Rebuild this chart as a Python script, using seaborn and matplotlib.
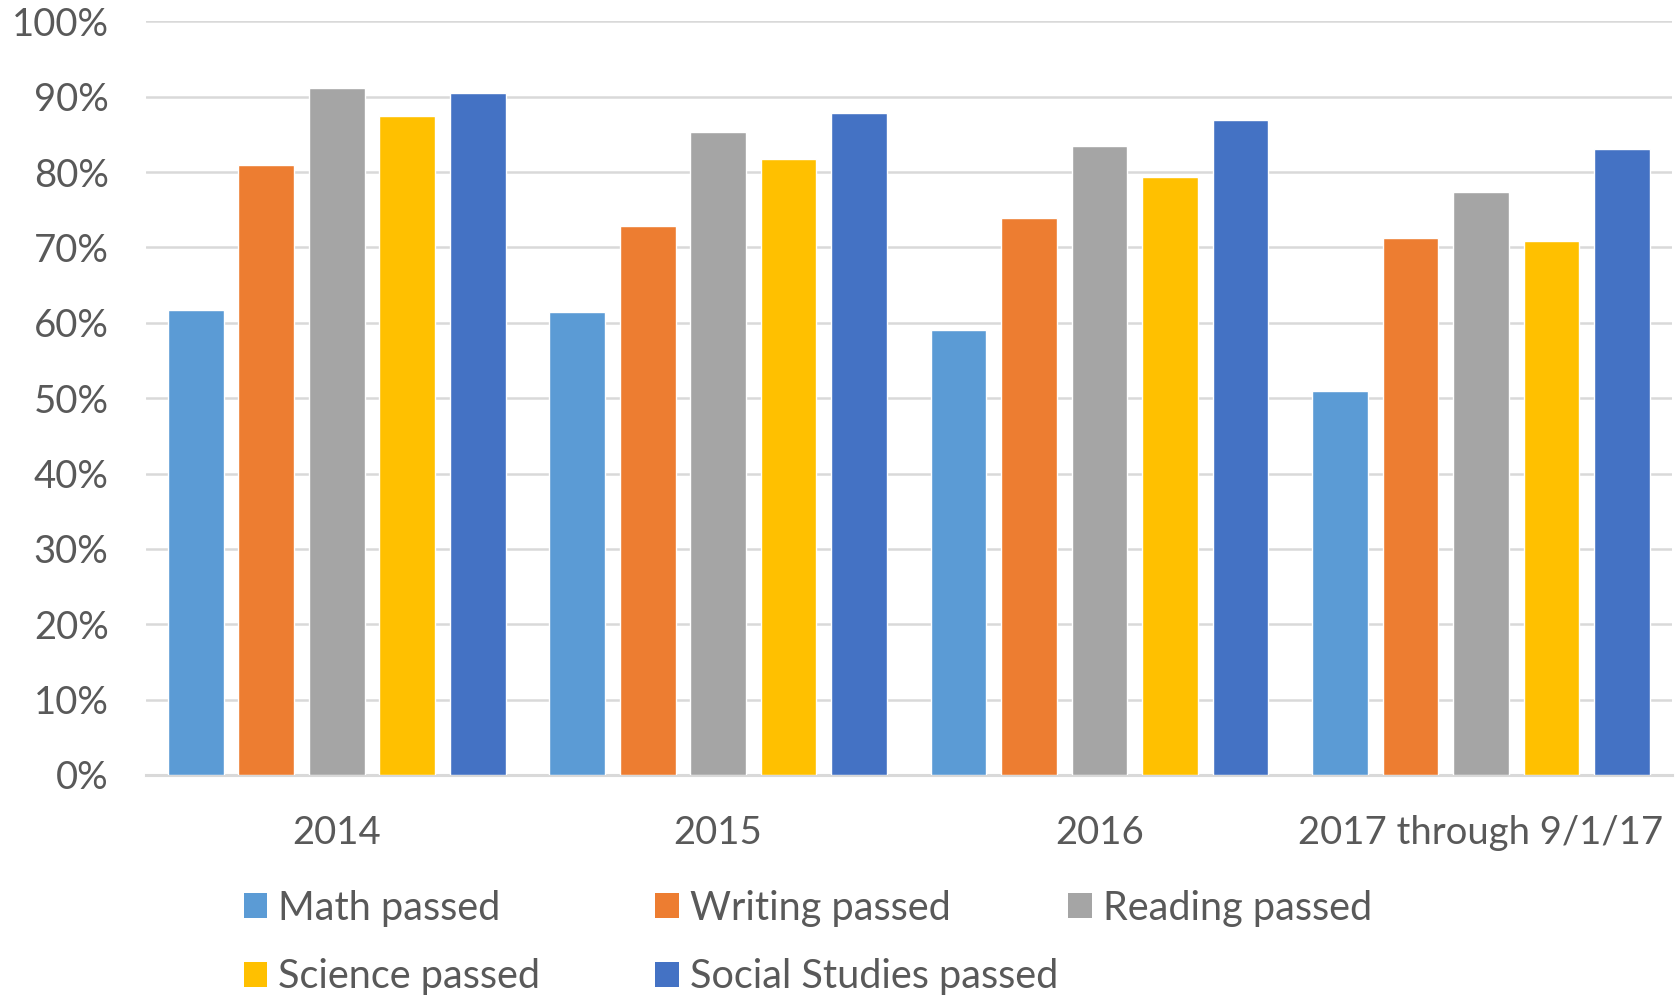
import matplotlib
matplotlib.use("Agg")
import matplotlib.pyplot as plt
from matplotlib.patches import Patch
from matplotlib.ticker import PercentFormatter
import seaborn as sns
import pandas as pd

years = ["2014", "2015", "2016", "2017 through 9/1/17"]
subjects = ["Math passed", "Writing passed", "Reading passed",
            "Science passed", "Social Studies passed"]
math_passed = [0.617, 0.615, 0.590, 0.509]
writing_passed = [0.810, 0.728, 0.739, 0.713]
reading_passed = [0.912, 0.853, 0.835, 0.774]
science_passed = [0.874, 0.818, 0.793, 0.709]
social_passed = [0.905, 0.879, 0.869, 0.831]
colors = ["#5B9BD5", "#ED7D31", "#A5A5A5", "#FFC000", "#4472C4"]

series = [math_passed, writing_passed, reading_passed, science_passed, social_passed]
rows = []
for subj, vals in zip(subjects, series):
    for yr, v in zip(years, vals):
        rows.append({"year": yr, "subject": subj, "value": v})
df = pd.DataFrame(rows)

sns.set_style("white")
plt.rcParams["font.family"] = ["Lato", "DejaVu Sans"]
text_color = "#595959"
grid_color = "#D9D9D9"

fig = plt.figure(figsize=(16.75, 9.97), dpi=100)
ax = fig.add_axes([0.0872, 0.2227, 0.9108, 0.7558])

sns.barplot(data=df, x="year", y="value", hue="subject", hue_order=subjects,
            palette=colors, width=0.924, gap=0.21, saturation=1,
            legend=False, ax=ax, zorder=3)

ax.set_ylim(0, 1)
ax.set_xlim(-0.5, 3.5)
ax.set_yticks([i / 10 for i in range(11)])
ax.yaxis.set_major_formatter(PercentFormatter(1.0, decimals=0))
ax.grid(axis="y", color=grid_color, linewidth=1.8, zorder=0)
ax.set_axisbelow(True)
for side in ["top", "right", "left"]:
    ax.spines[side].set_visible(False)
ax.spines["bottom"].set_color(grid_color)
ax.spines["bottom"].set_linewidth(2.2)
ax.tick_params(axis="y", length=0, pad=27, labelsize=27.5, labelcolor=text_color)
ax.tick_params(axis="x", length=0, pad=29, labelsize=27.5, labelcolor=text_color)
ax.set_xlabel("")
ax.set_ylabel("")

# Legend: three fixed columns like Excel
columns = [([0, 3], 0.1454), ([1, 4], 0.391), ([2], 0.6376)]
for idx, x0 in columns:
    handles = [Patch(facecolor=colors[i], edgecolor="none") for i in idx]
    labels = [subjects[i] for i in idx]
    leg = fig.legend(handles, labels, loc="upper left",
                     bbox_to_anchor=(x0, 0.1075), frameon=False,
                     fontsize=28.5, labelcolor=text_color,
                     handlelength=0.6, handleheight=0.6, handletextpad=0.28,
                     labelspacing=0.8, borderpad=0, borderaxespad=0)
    leg._legend_box.align = "left"

fig.savefig("out.png", dpi=100, facecolor="white")
